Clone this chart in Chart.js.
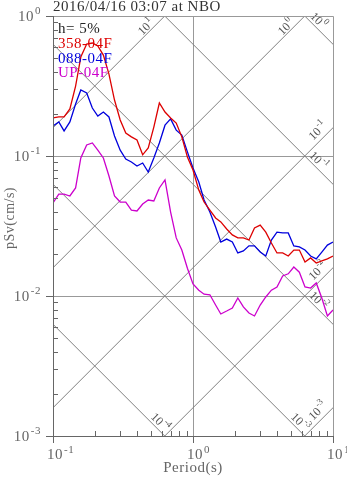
<!DOCTYPE html>
<html>
<head>
<meta charset="utf-8">
<script src="https://cdn.jsdelivr.net/npm/chart.js@4.4.0/dist/chart.umd.min.js"></script>
<style>
body { margin: 0; background: #fff; }
canvas { display: block; }
</style>
</head>
<body>
<canvas id="chart" width="347" height="478"></canvas>
<script>
// periods (s) and pseudo velocity response (cm/s), h = 5%
const periods = [0.1, 0.11, 0.12, 0.132, 0.145, 0.158, 0.174, 0.191, 0.209, 0.229,
    0.251, 0.275, 0.302, 0.331, 0.363, 0.398, 0.437, 0.479, 0.525, 0.575,
    0.631, 0.692, 0.759, 0.832, 0.912, 1.0, 1.1, 1.2, 1.32, 1.45,
    1.58, 1.74, 1.91, 2.09, 2.29, 2.51, 2.75, 3.02, 3.31, 3.63,
    3.98, 4.37, 4.79, 5.25, 5.75, 6.31, 6.92, 7.59, 8.32, 9.12, 10.0]

const psv358 = [0.187, 0.190, 0.190, 0.217, 0.316, 0.509, 0.631, 0.641, 0.611, 0.526,
    0.385, 0.251, 0.181, 0.146, 0.137, 0.130, 0.102, 0.114, 0.161, 0.239,
    0.206, 0.187, 0.172, 0.137, 0.0984, 0.0794, 0.0571, 0.0469, 0.0411, 0.0361,
    0.0338, 0.0301, 0.0273, 0.0260, 0.0260, 0.0251, 0.0306, 0.0321, 0.0286, 0.0239,
    0.0203, 0.0203, 0.0193, 0.0213, 0.0213, 0.0175, 0.0187, 0.0172, 0.0178, 0.0184, 0.0193]

const psv088 = [0.164, 0.175, 0.151, 0.175, 0.235, 0.296, 0.282, 0.220, 0.193, 0.206,
    0.190, 0.139, 0.110, 0.0952, 0.0906, 0.0848, 0.0891, 0.0769, 0.0968, 0.124,
    0.166, 0.184, 0.153, 0.141, 0.107, 0.0821, 0.0652, 0.0485, 0.0398, 0.0311,
    0.0243, 0.0255, 0.0243, 0.0203, 0.0210, 0.0228, 0.0228, 0.0206, 0.0193, 0.0251,
    0.0286, 0.0282, 0.0282, 0.0228, 0.0224, 0.0213, 0.0193, 0.0184, 0.0206, 0.0231, 0.0243]

const psvUP = [0.0462, 0.0535, 0.0535, 0.0518, 0.0591, 0.0968, 0.120, 0.124, 0.110, 0.0968,
    0.0720, 0.0518, 0.0469, 0.0469, 0.0411, 0.0405, 0.0454, 0.0485, 0.0477, 0.0591,
    0.0674, 0.0398, 0.0260, 0.0213, 0.0158, 0.0122, 0.0110, 0.0103, 0.0102, 0.00862,
    0.00744, 0.00781, 0.00821, 0.00968, 0.00835, 0.00756, 0.00720, 0.00862, 0.00984, 0.0110,
    0.0116, 0.0139, 0.0144, 0.0161, 0.0148, 0.0116, 0.0114, 0.0124, 0.00968, 0.00720, 0.00794]

const seriesNames = ['358-04F', '088-04F', 'UP-04F']
const seriesColors = ['#dd0000', '#0000dd', '#cc00cc']

// tripartite guide lines: acceleration (cm/s2) and displacement (cm) exponents
const accelExps = [1, 0, -1, -2, -3]
const dispExps = [0, -1, -2, -3, -4]

const xTickExps = [-1, 0, 1]
const yTickExps = [0, -1, -2, -3]

const titleText = '2016/04/16 03:07 at NBO'
const dampingText = 'h= 5%'

const FONT = '"Liberation Serif", "Times New Roman", serif'
const TWO_PI = 2 * Math.PI

function toPoints(values) {
    return periods.map((t, i) => ({ x: t, y: values[i] }))
}

function setFont(ctx, size) {
    ctx.font = size + 'px ' + FONT
}

function drawPow(ctx, exp, x, y, size, mode) {
    const sup = Math.round(size * 0.72)
    setFont(ctx, size)
    const w1 = ctx.measureText('10').width
    setFont(ctx, sup)
    const w2 = ctx.measureText(String(exp)).width
    let x0
    if (mode === 'right') x0 = x - w1 - w2 - 1
    else if (mode === 'base') x0 = x - w1 / 2
    else x0 = x - (w1 + w2 + 1) / 2
    ctx.textAlign = 'left'
    setFont(ctx, size)
    ctx.fillText('10', x0, y)
    setFont(ctx, sup)
    ctx.fillText(String(exp), x0 + w1 + 1, y - size * 0.42)
}

const tripartite = {
    id: 'tripartite',
    beforeDatasetsDraw(chart) {
        const { ctx, chartArea: a, scales: { x, y } } = chart
        ctx.save()
        ctx.beginPath()
        ctx.rect(a.left, a.top, a.right - a.left, a.bottom - a.top)
        ctx.clip()

        // decade grid
        ctx.strokeStyle = '#999'
        ctx.lineWidth = 1
        ctx.beginPath()
        const gx = Math.round(x.getPixelForValue(1)) + 0.5
        ctx.moveTo(gx, a.top)
        ctx.lineTo(gx, a.bottom)
        ;[0.1, 0.01].forEach(v => {
            const gy = Math.round(y.getPixelForValue(v)) + 0.5
            ctx.moveTo(a.left, gy)
            ctx.lineTo(a.right, gy)
        })
        ctx.stroke()

        // diagonals
        ctx.strokeStyle = '#808080'
        ctx.beginPath()
        accelExps.forEach(e => {
            const A = Math.pow(10, e)
            ctx.moveTo(x.getPixelForValue(0.01), y.getPixelForValue(A * 0.01 / TWO_PI))
            ctx.lineTo(x.getPixelForValue(100), y.getPixelForValue(A * 100 / TWO_PI))
        })
        dispExps.forEach(e => {
            const D = Math.pow(10, e)
            ctx.moveTo(x.getPixelForValue(0.01), y.getPixelForValue(TWO_PI * D / 0.01))
            ctx.lineTo(x.getPixelForValue(100), y.getPixelForValue(TWO_PI * D / 100))
        })
        ctx.stroke()
        ctx.restore()

        // diagonal labels
        const r = Math.SQRT1_2
        ctx.save()
        ctx.fillStyle = '#555'
        ctx.textBaseline = 'middle'
        accelExps.forEach(e => {
            const A = Math.pow(10, e)
            const tTop = TWO_PI / A
            let ex, ey, al, bl
            if (tTop <= 10) {
                ex = x.getPixelForValue(tTop); ey = y.getPixelForValue(1); al = -21; bl = 5
            } else {
                ex = x.getPixelForValue(10); ey = y.getPixelForValue(10 * A / TWO_PI); al = -13; bl = 8
            }
            const px = ex + al * r - bl * r
            const py = ey - al * r - bl * r
            ctx.save()
            ctx.translate(px, py)
            ctx.rotate(-Math.PI / 4)
            drawPow(ctx, e, 0, 0, 12, 'center')
            ctx.restore()
        })
        dispExps.forEach(e => {
            const D = Math.pow(10, e)
            const tBot = TWO_PI * D / 0.001
            let ex, ey, al, bl
            if (tBot <= 10) {
                ex = x.getPixelForValue(tBot); ey = y.getPixelForValue(0.001); al = -13; bl = 6
            } else {
                ex = x.getPixelForValue(10); ey = y.getPixelForValue(TWO_PI * D / 10); al = -27; bl = 6
            }
            const px = ex + al * r + bl * r
            const py = ey + al * r - bl * r
            ctx.save()
            ctx.translate(px, py)
            ctx.rotate(Math.PI / 4)
            drawPow(ctx, e, 0, 0, 12, 'center')
            ctx.restore()
        })
        ctx.restore()
    },
    afterDatasetsDraw(chart) {
        const { ctx, chartArea: a, scales: { x, y } } = chart
        ctx.save()
        ctx.lineWidth = 1

        // frame
        ctx.strokeStyle = '#999'
        ctx.beginPath()
        ctx.moveTo(a.left, a.top + 0.5)
        ctx.lineTo(a.right + 0.5, a.top + 0.5)
        ctx.lineTo(a.right + 0.5, a.bottom)
        ctx.stroke()
        ctx.strokeStyle = '#666'
        ctx.beginPath()
        ctx.moveTo(a.left + 0.5, a.top)
        ctx.lineTo(a.left + 0.5, a.bottom + 0.5)
        ctx.lineTo(a.right + 1, a.bottom + 0.5)
        ctx.stroke()

        // ticks
        ctx.beginPath()
        yTickExps.forEach(e => {
            const py = Math.round(y.getPixelForValue(Math.pow(10, e))) + 0.5
            ctx.moveTo(a.left - 7, py)
            ctx.lineTo(a.left, py)
            if (e > -3) {
                for (let m = 2; m < 10; m++) {
                    const my = Math.round(y.getPixelForValue(m * Math.pow(10, e - 1))) + 0.5
                    ctx.moveTo(a.left, my)
                    ctx.lineTo(a.left + 5, my)
                }
            }
        })
        xTickExps.forEach(e => {
            const px = Math.round(x.getPixelForValue(Math.pow(10, e))) + 0.5
            ctx.moveTo(px, a.bottom)
            ctx.lineTo(px, a.bottom + 7)
            if (e < 1) {
                for (let m = 2; m < 10; m++) {
                    const mx = Math.round(x.getPixelForValue(m * Math.pow(10, e))) + 0.5
                    ctx.moveTo(mx, a.bottom)
                    ctx.lineTo(mx, a.bottom - 5)
                }
            }
        })
        ctx.stroke()

        // tick labels
        ctx.letterSpacing = '0.5px'
        ctx.fillStyle = '#666'
        ctx.textBaseline = 'middle'
        yTickExps.forEach(e => {
            drawPow(ctx, e, 41, y.getPixelForValue(Math.pow(10, e)) + 1, 15, 'right')
        })
        ctx.textBaseline = 'alphabetic'
        xTickExps.forEach(e => {
            drawPow(ctx, e, x.getPixelForValue(Math.pow(10, e)) + 2, 459, 15, 'base')
        })

        // axis titles
        setFont(ctx, 15)
        ctx.textAlign = 'center'
        ctx.fillText('Period(s)', (a.left + a.right) / 2, 472)
        ctx.save()
        ctx.translate(14, 218)
        ctx.rotate(-Math.PI / 2)
        setFont(ctx, 14)
        ctx.fillText('pSv(cm/s)', 0, 0)
        ctx.restore()

        // title
        ctx.textAlign = 'left'
        ctx.fillStyle = '#333'
        setFont(ctx, 15)
        ctx.fillText(titleText, 53, 11)

        // legend text
        ctx.fillStyle = '#222'
        ctx.fillText(dampingText, 58, 33)
        seriesNames.forEach((name, i) => {
            ctx.fillStyle = seriesColors[i]
            ctx.fillText(name, 58, 48 + i * 14.5)
        })
        ctx.restore()
    }
}

const ctx = document.querySelector('#chart').getContext('2d')
const chart = new Chart(ctx, {
    type: 'line',
    data: {
        datasets: [psv358, psv088, psvUP].map((vals, i) => ({
            label: seriesNames[i],
            data: toPoints(vals),
            borderColor: seriesColors[i],
            borderWidth: 1.3,
            pointRadius: 0,
            tension: 0,
            fill: false
        }))
    },
    options: {
        responsive: false,
        animation: false,
        layout: {
            padding: { left: 53, right: 14, top: 16, bottom: 42 }
        },
        scales: {
            x: { type: 'logarithmic', min: 0.1, max: 10, display: false },
            y: { type: 'logarithmic', min: 0.001, max: 1, display: false }
        },
        plugins: {
            legend: { display: false },
            tooltip: { enabled: false }
        }
    },
    plugins: [tripartite]
})
</script>
</body>
</html>
